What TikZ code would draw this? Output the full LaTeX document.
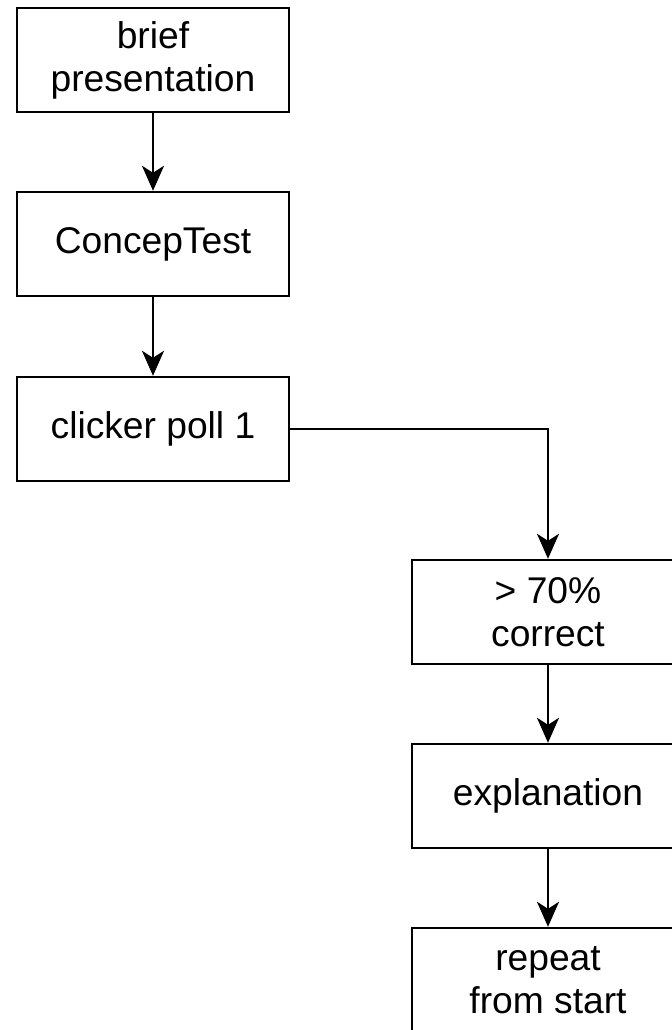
\documentclass[tikz,border=0pt]{standalone}
\usepackage{fontspec}
\setmainfont{Liberation Sans}
\usetikzlibrary{arrows.meta}

\begin{document}
\begin{tikzpicture}[x=0.5pt,y=-0.5pt,>={Stealth[length=12.5pt,width=11pt,inset=3.5pt]},
		box/.style={draw,line width=1.2pt,minimum width=136pt,minimum height=52pt,inner sep=0pt,align=center,font=\fontsize{18.6}{21.5}\selectfont},
		link/.style={line width=1.2pt,->}]
			\clip (0,0) rectangle (672,1030);

			\node[box] (brief) at (153,60) {brief\\presentation};
			\node[box] (concep) at (153,244) {ConcepTest};
			\node[box] (poll) at (153,429) {clicker poll 1};

			\node[box] (correct) at (548,612) {> 70\%\\correct};
			\node[box] (explain) at (548,796) {explanation};
			\node[box] (repeat) at (548,980) {repeat\\from start};

			\draw[link] (brief) -- (concep);
			\draw[link] (concep) -- (poll);
			\draw[link] (poll.east) -| (correct.north);
			\draw[link] (correct) -- (explain);
			\draw[link] (explain) -- (repeat);
		\end{tikzpicture}
\end{document}
